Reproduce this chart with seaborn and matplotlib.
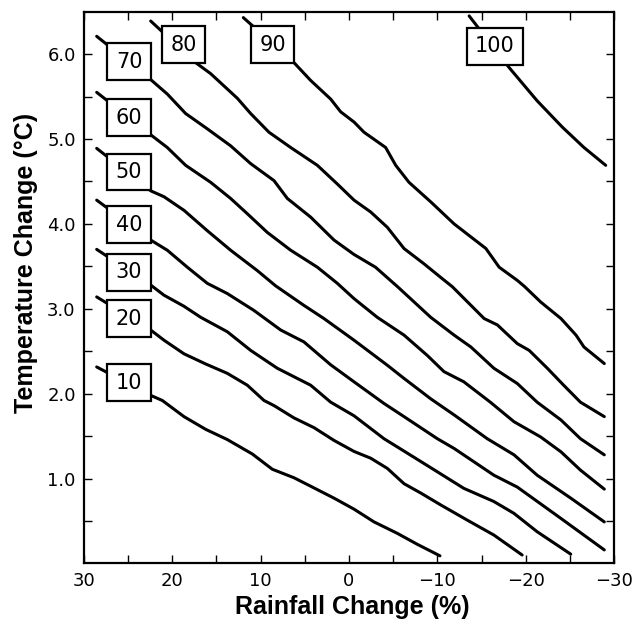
import matplotlib
matplotlib.use("Agg")
import matplotlib.pyplot as plt
import seaborn as sns
import pandas as pd

levels = [10, 20, 30, 40, 50, 60, 70, 80, 90, 100]

rain_10 = [28.56, 22.45, 21.13, 18.68, 16.22, 13.78, 10.95, 8.68, 6.23, 4.15, 1.70,
           -0.57, -2.83, -5.47, -7.73, -10.3]
temp_10 = [2.315, 1.98, 1.92, 1.73, 1.58, 1.46, 1.29, 1.11, 1.01, 0.90, 0.77,
           0.64, 0.49, 0.355, 0.226, 0.09]

rain_20 = [28.56, 22.45, 20.94, 18.68, 16.22, 13.78, 11.51, 9.62, 8.49, 6.23, 3.96,
           1.70, -0.57, -2.46, -4.34, -6.23, -8.12, -10.38, -13.4, -16.4, -19.6]
temp_20 = [3.14, 2.75, 2.63, 2.47, 2.35, 2.24, 2.10, 1.92, 1.86, 1.715, 1.60,
           1.45, 1.32, 1.24, 1.12, 0.94, 0.83, 0.69, 0.51, 0.335, 0.10]

rain_30 = [28.56, 22.45, 20.94, 18.68, 16.79, 13.78, 11.13, 8.12, 4.34, 2.07, -0.57,
           -3.96, -6.6, -10.0, -13.0, -16.4, -18.68, -21.3, -25.1]
temp_30 = [3.70, 3.28, 3.16, 3.03, 2.90, 2.73, 2.51, 2.30, 2.10, 1.90, 1.74,
           1.47, 1.30, 1.08, 0.885, 0.73, 0.59, 0.374, 0.11]

rain_40 = [28.56, 22.45, 20.57, 18.3, 16.04, 13.78, 10.75, 7.73, 5.1, 2.07, -0.57,
           -3.96, -6.23, -10.0, -11.9, -16.4, -19.05, -24.0, -28.9]
temp_40 = [4.28, 3.81, 3.69, 3.49, 3.30, 3.18, 2.98, 2.75, 2.61, 2.34, 2.14,
           1.885, 1.73, 1.47, 1.355, 1.04, 0.90, 0.53, 0.16]

rain_50 = [28.56, 22.45, 20.94, 18.68, 16.04, 13.4, 10.38, 8.3, 5.1, 2.83, -0.57,
           -4.34, -6.23, -9.25, -11.9, -15.65, -18.68, -21.3, -25.1, -28.9]
temp_50 = [4.89, 4.39, 4.32, 4.16, 3.92, 3.69, 3.45, 3.27, 3.04, 2.885, 2.63,
           2.335, 2.18, 1.94, 1.75, 1.47, 1.28, 1.04, 0.77, 0.49]

rain_60 = [28.56, 22.45, 20.57, 18.49, 15.66, 13.4, 11.51, 9.25, 6.6, 3.58, 1.32,
           -0.57, -3.2, -6.23, -8.87, -10.75, -13.0, -16.0, -18.68, -21.7, -24.0,
           -26.2, -28.9]
temp_60 = [5.55, 5.05, 4.90, 4.69, 4.49, 4.30, 4.12, 3.90, 3.69, 3.49, 3.30,
           3.12, 2.90, 2.69, 2.45, 2.26, 2.14, 1.90, 1.67, 1.49, 1.315,
           1.10, 0.876]

rain_70 = [28.56, 22.45, 20.57, 18.49, 16.04, 13.4, 11.13, 8.49, 6.98, 4.34, 1.70,
           -0.57, -3.0, -5.5, -9.25, -11.9, -13.8, -16.4, -19.05, -21.3, -24.0,
           -26.2, -28.9]
temp_70 = [6.21, 5.70, 5.53, 5.30, 5.12, 4.92, 4.71, 4.51, 4.30, 4.08, 3.81,
           3.64, 3.49, 3.26, 2.90, 2.69, 2.55, 2.30, 2.12, 1.90, 1.69,
           1.47, 1.28]

rain_80 = [22.45, 17.36, 15.66, 12.64, 11.13, 9.06, 6.6, 3.58, 1.32, -0.57, -2.46,
           -4.34, -6.23, -8.49, -10.38, -11.7, -15.3, -16.8, -19.05, -20.4, -22.45,
           -24.3, -26.2, -28.9]
temp_80 = [6.39, 5.90, 5.77, 5.48, 5.30, 5.08, 4.90, 4.69, 4.47, 4.28, 4.14,
           3.96, 3.71, 3.53, 3.37, 3.26, 2.885, 2.81, 2.59, 2.51, 2.30,
           2.10, 1.90, 1.73]

rain_90 = [11.96, 6.23, 4.34, 2.07, 0.94, -0.57, -1.70, -4.15, -5.29, -6.79, -9.25,
           -11.9, -15.5, -17.0, -19.05, -19.9, -21.7, -24.0, -25.7, -26.6, -28.9]
temp_90 = [6.43, 5.90, 5.69, 5.47, 5.32, 5.20, 5.08, 4.90, 4.69, 4.49, 4.26,
           4.00, 3.71, 3.49, 3.335, 3.26, 3.08, 2.885, 2.69, 2.55, 2.355]

rain_100 = [-13.6, -18.1, -18.87, -21.3, -24.15, -26.6, -29.06]
temp_100 = [6.45, 5.845, 5.75, 5.45, 5.14, 4.90, 4.69]

x_ticks = [30, 20, 10, 0, -10, -20, -30]
y_ticks = [1, 2, 3, 4, 5, 6]

rains = [rain_10, rain_20, rain_30, rain_40, rain_50, rain_60, rain_70, rain_80, rain_90, rain_100]
temps = [temp_10, temp_20, temp_30, temp_40, temp_50, temp_60, temp_70, temp_80, temp_90, temp_100]

frames = []
for lev, r, t in zip(levels, rains, temps):
    frames.append(pd.DataFrame({"rain": r, "temp": t, "level": lev}))
df = pd.concat(frames, ignore_index=True)

sns.set_style("ticks", rc={"axes.edgecolor": "black", "xtick.color": "black",
                           "ytick.color": "black", "text.color": "black",
                           "axes.labelcolor": "black"})
plt.rcParams["font.family"] = ["DejaVu Sans"]

fig = plt.figure(figsize=(6.42, 6.31), dpi=100)
ax = fig.add_axes([0.1308, 0.107, 0.9564 - 0.1308, 0.9815 - 0.107])

sns.lineplot(data=df, x="rain", y="temp", units="level", estimator=None, sort=False,
             color="black", linewidth=2.2, legend=False, ax=ax)

# inline contour labels in boxes
label_pos = {10: (24.9, 2.13), 20: (24.9, 2.885), 30: (24.9, 3.43), 40: (24.9, 3.99),
             50: (24.9, 4.61), 60: (24.9, 5.25), 70: (24.9, 5.91), 80: (18.74, 6.11),
             90: (8.63, 6.11), 100: (-16.53, 6.09)}
for lev in levels:
    lx, ly = label_pos[lev]
    ax.text(lx, ly, str(lev), ha="center", va="center", fontsize=15, zorder=5,
            bbox=dict(boxstyle="square,pad=0.4", fc="white", ec="black", lw=1.6))

ax.set_xlim(30, -30)
ax.set_ylim(0, 6.5)
ax.set_xticks(x_ticks)
ax.set_xticks([25, 15, 5, -5, -15, -25], minor=True)
ax.set_yticks(y_ticks)
ax.set_yticks([0.5, 1.5, 2.5, 3.5, 4.5, 5.5], minor=True)
ax.set_xticklabels([str(v).replace("-", "\u2212") for v in x_ticks])
ax.set_yticklabels([f"{v:.1f}" for v in y_ticks])
ax.tick_params(which="both", direction="in", top=True, right=True,
               length=5.5, width=1.0, labelsize=13, pad=6)
for s in ax.spines.values():
    s.set_linewidth(1.6)

ax.set_xlabel("Rainfall Change (%)", fontsize=18, fontweight="bold", family="Liberation Sans")
ax.set_ylabel("Temperature Change (\u00b0C)", fontsize=18, fontweight="bold", family="Liberation Sans")
ax.xaxis.set_label_coords(0.506, -0.079)
ax.xaxis.label.set_verticalalignment("center")
ax.yaxis.set_label_coords(-0.109, 0.545)
ax.yaxis.label.set_verticalalignment("center")

fig.savefig("out.png", dpi=100)
